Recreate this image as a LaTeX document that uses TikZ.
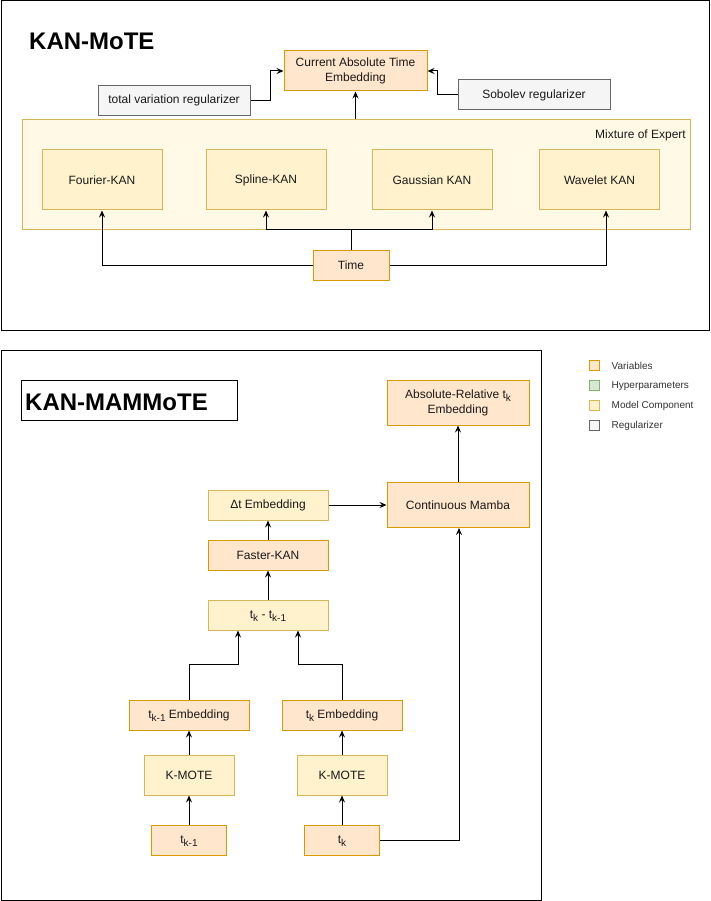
\documentclass[tikz,border=0pt]{standalone}
\usepackage{fontspec}
\setmainfont{Liberation Sans}
\usetikzlibrary{arrows.meta}
\definecolor{varfill}{HTML}{FFE6CC}
\definecolor{vardraw}{HTML}{D79B00}
\definecolor{hypfill}{HTML}{D5E8D4}
\definecolor{hypdraw}{HTML}{82B366}
\definecolor{compfill}{HTML}{FFF2CC}
\definecolor{compdraw}{HTML}{D6B656}
\definecolor{regfill}{HTML}{F5F5F5}
\definecolor{regdraw}{HTML}{666666}
\definecolor{moefill}{HTML}{FFF9E6}
\definecolor{legtext}{HTML}{333333}
\newcommand{\mysub}[1]{\smash{\raisebox{-3pt}{\fontsize{10}{12}\selectfont #1}}}
\begin{document}
\begin{tikzpicture}[x=1pt,y=-1pt,
  box/.style={draw, rectangle, inner sep=0pt, line width=1pt,
    font=\fontsize{12}{15}\selectfont, align=center, text=black!90},
  varbox/.style={box, fill=varfill, draw=vardraw},
  compbox/.style={box, fill=compfill, draw=compdraw},
  regbox/.style={box, fill=regfill, draw=regdraw},
  frame/.style={draw=black, line width=1pt},
  legsq/.style={draw, rectangle, inner sep=0pt, minimum width=10pt, minimum height=10pt, line width=0.8pt},
  legtxt/.style={anchor=west, inner sep=0pt, font=\fontsize{10}{12}\selectfont, text=legtext},
  title/.style={inner sep=0pt, font=\fontsize{24}{28}\selectfont\bfseries, text=black},
  arr/.style={-{Stealth[length=7pt,width=6pt,inset=2.5pt]}, line width=1pt, draw=black},
]
\useasboundingbox (0,0) rectangle (710,901);
\fill[white] (0,0) rectangle (710,901);

% ---------------- KAN-MoTE ----------------
\draw[frame] (1,1) rectangle (709,330);
\node[title, anchor=base west] (t1title) at (29,50) {KAN-MoTE};

\node[varbox, minimum width=143pt, minimum height=40pt] (cate) at (355.5,71) {Current Absolute Time\\Embedding};
\node[regbox, minimum width=152pt, minimum height=30pt] (tv) at (174,100.5) {total variation regularizer};
\node[regbox, minimum width=152pt, minimum height=30pt] (sob) at (534,95) {Sobolev regularizer};

\node[box, fill=moefill, draw=compdraw, minimum width=668pt, minimum height=110pt] (moe) at (356,175) {};
\node[anchor=east, inner sep=0pt, font=\fontsize{12}{15}\selectfont, text=black!90] (moelabel) at (686,135.5) {Mixture of Expert};

\node[compbox, minimum width=120pt, minimum height=60pt] (fourier) at (102,180) {Fourier-KAN};
\node[compbox, minimum width=120pt, minimum height=60pt] (spline) at (266,180) {Spline-KAN};
\node[compbox, minimum width=120pt, minimum height=60pt] (gauss) at (432,180) {Gaussian KAN};
\node[compbox, minimum width=120pt, minimum height=60pt] (wave) at (599.5,180) {Wavelet KAN};

\node[varbox, minimum width=76pt, minimum height=30pt] (time) at (351,265) {Time};

\draw[arr] (time.north) -- ++(0,-20) coordinate (tj) -| (spline.south);
\draw[arr] (tj) -| (gauss.south);
\draw[arr] (time.west) -| (fourier.south);
\draw[arr] (time.east) -| ([xshift=6.5pt]wave.south);
\draw[arr] (cate.south |- moe.north) -- (cate.south);
\draw[arr] (tv.east) -- ++(20,0) |- (cate.west);
\draw[arr] (sob.west) -- ++(-20,0) |- (cate.east);

% ---------------- KAN-MAMMoTE ----------------
\draw[frame] (1,350) rectangle (541,900);
\node[draw=black, line width=1pt, fill=white, minimum width=216pt, minimum height=40pt, inner sep=0pt] (t2box) at (129,400) {};
\node[title, anchor=base west] (t2title) at (25,410) {KAN-MAMMoTE};

\node[varbox, minimum width=142pt, minimum height=45pt] (ar) at (458,402.5) {Absolute-Relative t\mysub{k}\\Embedding};
\node[varbox, minimum width=142pt, minimum height=45pt] (cm) at (458,505) {Continuous Mamba};
\node[compbox, minimum width=120pt, minimum height=30pt] (dt) at (268,505) {Δt Embedding};
\node[varbox, minimum width=120pt, minimum height=30pt] (fk) at (268,555) {Faster-KAN};
\node[compbox, minimum width=120pt, minimum height=30pt] (diff) at (268,615) {t\mysub{k} - t\mysub{k-1}};
\node[varbox, minimum width=120pt, minimum height=30pt] (emb1) at (189,715) {t\mysub{k-1} Embedding};
\node[varbox, minimum width=120pt, minimum height=30pt] (emb2) at (342,715) {t\mysub{k} Embedding};
\node[compbox, minimum width=90pt, minimum height=40pt] (km1) at (189,775) {K-MOTE};
\node[compbox, minimum width=90pt, minimum height=40pt] (km2) at (342,775) {K-MOTE};
\node[varbox, minimum width=75pt, minimum height=30pt] (tk1) at (189,840) {t\mysub{k-1}};
\node[varbox, minimum width=75pt, minimum height=30pt] (tk) at (342,840) {t\mysub{k}};

\draw[arr] (tk1.north) -- (km1.south);
\draw[arr] (km1.north) -- (emb1.south);
\draw[arr] (tk.north) -- (km2.south);
\draw[arr] (km2.north) -- (emb2.south);
\draw[arr] (emb1.north) -- ++(0,-35) -| ([xshift=-30pt]diff.south);
\draw[arr] (emb2.north) -- ++(0,-35) -| ([xshift=30pt]diff.south);
\draw[arr] (diff.north) -- (fk.south);
\draw[arr] (fk.north) -- (dt.south);
\draw[arr] (dt.east) -- (cm.west);
\draw[arr] (cm.north) -- (ar.south);
\draw[arr] (tk.east) -| ([xshift=1pt]cm.south);

% ---------------- Legend ----------------
\node[legsq, fill=varfill, draw=vardraw] (lg1) at (594.5,365.7) {};
\node[legsq, fill=hypfill, draw=hypdraw] (lg2) at (594.5,385.7) {};
\node[legsq, fill=compfill, draw=compdraw] (lg3) at (594.5,405.7) {};
\node[legsq, fill=regfill, draw=regdraw] (lg4) at (594.5,425.7) {};
\node[legtxt] (lt1) at (611.5,365.7) {Variables};
\node[legtxt] (lt2) at (611.5,385.7) {Hyperparameters};
\node[legtxt] (lt3) at (611.5,405.7) {Model Component};
\node[legtxt] (lt4) at (611.5,425.7) {Regularizer};
\end{tikzpicture}
\end{document}
